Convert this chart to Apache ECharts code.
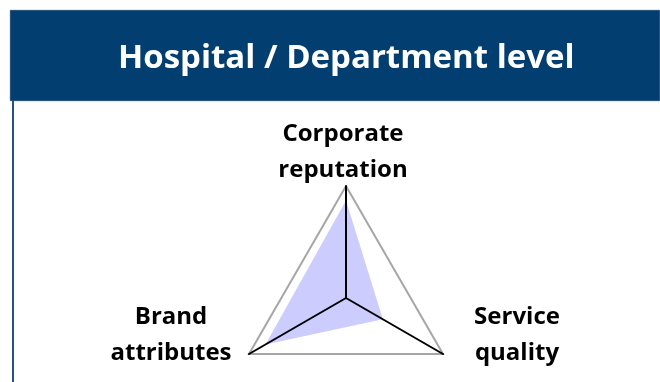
<!DOCTYPE html>
<html>
<head>
<meta charset="utf-8">
<script src="https://cdn.jsdelivr.net/npm/echarts@6/dist/echarts.min.js"></script>
<style>
  html, body { margin: 0; padding: 0; background: #fff; }
  #chart { width: 660px; height: 382px; }
</style>
</head>
<body>
<div id="chart"></div>
<script>
const titleText = 'Hospital / Department level';
const indicatorNames = ['Corporate reputation', 'Brand attributes', 'Service quality'];
const labelLines = [['Corporate', 'reputation'], ['Brand', 'attributes'], ['Service', 'quality']];
const scoreValues = [0.87, 0.83, 0.38];
const scoreMax = 1;

const chart = echarts.init(document.getElementById('chart'));

const labelFont = 'bold 24px "Open Sans", sans-serif';
const labelPos = [[343, 152], [171, 335], [517, 335]];

const option = {
  backgroundColor: '#fff',
  animation: false,
  title: {
    text: titleText,
    left: 113,
    top: 37,
    textStyle: {
      color: '#fff',
      fontSize: 33,
      fontWeight: 'bold',
      fontFamily: '"Open Sans", sans-serif'
    }
  },
  graphic: [
    {
      type: 'rect',
      z: -1,
      shape: { x: 10, y: 10, width: 650, height: 91 },
      style: { fill: '#023e6f', stroke: '#9aa5b1', lineWidth: 0.5 }
    },
    {
      type: 'line',
      shape: { x1: 13, y1: 101, x2: 13, y2: 382 },
      style: { stroke: '#25537f', lineWidth: 2 }
    },
    ...labelLines.map((lines, i) => ({
      type: 'text',
      x: labelPos[i][0],
      y: labelPos[i][1],
      style: {
        text: lines.join('\n'),
        font: labelFont,
        fill: '#000',
        align: 'center',
        verticalAlign: 'middle',
        lineHeight: 36
      }
    }))
  ],
  radar: {
    center: [346, 298],
    radius: 112,
    startAngle: 90,
    splitNumber: 1,
    shape: 'polygon',
    z: 5,
    indicator: indicatorNames.map(name => ({ name, max: scoreMax })),
    axisName: { show: false },
    axisLine: { lineStyle: { color: '#000', width: 2 } },
    splitLine: { lineStyle: { color: '#a6a6a6', width: 2 } },
    splitArea: { show: false },
    axisTick: { show: false },
    axisLabel: { show: false }
  },
  series: [
    {
      type: 'radar',
      z: 1,
      symbol: 'none',
      lineStyle: { width: 0 },
      areaStyle: { color: '#ccccff', opacity: 1 },
      data: [{ value: scoreValues }]
    }
  ]
};

chart.setOption(option);
</script>
</body>
</html>
